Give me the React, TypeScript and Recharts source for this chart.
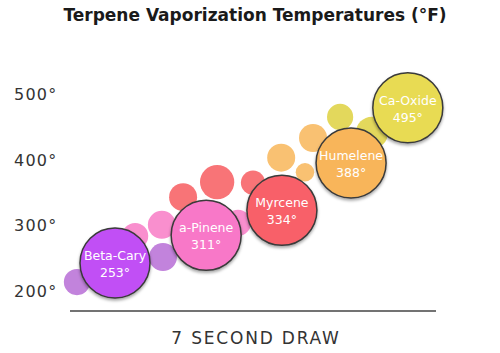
import { ScatterChart, Scatter, XAxis, YAxis, ZAxis } from 'recharts'

// big labelled terpenes
const terpenes = ['Beta-Cary', 'a-Pinene', 'Myrcene', 'Humelene', 'Ca-Oxide']
const temps = [253, 311, 334, 388, 495]
const terpeneX = [1.23, 3.72, 5.79, 7.68, 9.23]
const terpeneY = [243, 285, 323, 395, 479]

// small background bubbles
const dotX = [0.19, 1.78, 2.54, 2.51, 3.09, 4.02, 4.59, 5.0, 5.77, 6.42, 6.64, 7.38, 8.25]
const dotY = [214, 284, 252, 301, 343, 366, 304, 365, 403, 381, 433, 465, 441]
const dotZ = [14, 14, 16, 16, 16, 24, 14, 12, 16, 7, 16, 14, 21]
const dotGroup = [0, 1, 0, 1, 2, 2, 1, 2, 3, 3, 3, 4, 4]

const yTicks = [200, 300, 400, 500]

const mainColors = ['#c150f5', '#f878c8', '#f86169', '#f8b55a', '#e8db52']
const dotColors = ['#c283dc', '#f98fce', '#f87477', '#f9c172', '#e3d85c']

const FONT = '"DejaVu Sans", sans-serif'

const bigData = terpenes.map((name, i) => ({
  name,
  temp: temps[i],
  x: terpeneX[i],
  y: terpeneY[i],
  z: 100,
  group: i
}))

const smallData = dotX.map((x, i) => ({ x, y: dotY[i], z: dotZ[i], group: dotGroup[i] }))

function SmallDot(props: any) {
  const { cx, cy, width, payload } = props
  return <circle cx={cx} cy={cy} r={width / 2} fill={dotColors[payload.group]} />
}

function BigDot(props: any) {
  const { cx, cy, width, payload } = props
  return (
    <g>
      <circle
        cx={cx}
        cy={cy}
        r={width / 2}
        fill={mainColors[payload.group]}
        stroke="#3a3a3a"
        strokeWidth={1.5}
        filter="url(#bubbleShadow)"
      />
      <text x={cx} y={cy - 3} textAnchor="middle" fill="#fff" fontSize={12.5} fontFamily={FONT}>
        {payload.name}
      </text>
      <text x={cx} y={cy + 14} textAnchor="middle" fill="#fff" fontSize={12.5} fontFamily={FONT}>
        {payload.temp}°
      </text>
    </g>
  )
}

function YTick(props: any) {
  const { y, payload } = props
  return (
    <text x={14} y={y} dy={6} fill="#333" fontSize={16} fontFamily={FONT} letterSpacing={1.2}>
      {payload.value}°
    </text>
  )
}

export default function App() {
  return (
    <div style={{ position: 'absolute', left: 0, top: 0, width: 500, height: 353, background: '#fff' }}>
      <div
        style={{
          position: 'absolute',
          left: 0,
          top: 5,
          width: 510,
          textAlign: 'center',
          fontFamily: FONT,
          fontWeight: 'bold',
          fontSize: 17,
          color: '#1a1a1a'
        }}
      >
        Terpene Vaporization Temperatures (°F)
      </div>
      <ScatterChart width={500} height={353} margin={{ top: 61, right: 64, bottom: 0, left: 0 }}>
        <defs>
          <filter id="bubbleShadow" x="-30%" y="-30%" width="160%" height="170%">
            <feDropShadow dx="0" dy="2" stdDeviation="1.5" floodColor="#000" floodOpacity="0.35" />
          </filter>
        </defs>
        <XAxis
          type="number"
          dataKey="x"
          domain={[0, 10]}
          height={42}
          tick={false}
          tickLine={false}
          axisLine={{ stroke: '#444', strokeWidth: 1.5 }}
          label={{
            content: (p: any) => (
              <text
                x={p.viewBox.x + p.viewBox.width / 2 + 3}
                y={p.viewBox.y + 33}
                textAnchor="middle"
                fill="#333"
                fontSize={17}
                fontFamily={FONT}
                letterSpacing={1.8}
              >
                7 SECOND DRAW
              </text>
            )
          }}
        />
        <YAxis
          type="number"
          dataKey="y"
          domain={[170, 550]}
          ticks={yTicks}
          width={70}
          axisLine={false}
          tickLine={false}
          tick={<YTick />}
        />
        <ZAxis type="number" dataKey="z" domain={[0, 100]} range={[0, 3850]} />
        <Scatter data={smallData} shape={<SmallDot />} isAnimationActive={false} />
        <Scatter data={bigData} shape={<BigDot />} isAnimationActive={false} />
      </ScatterChart>
    </div>
  )
}
